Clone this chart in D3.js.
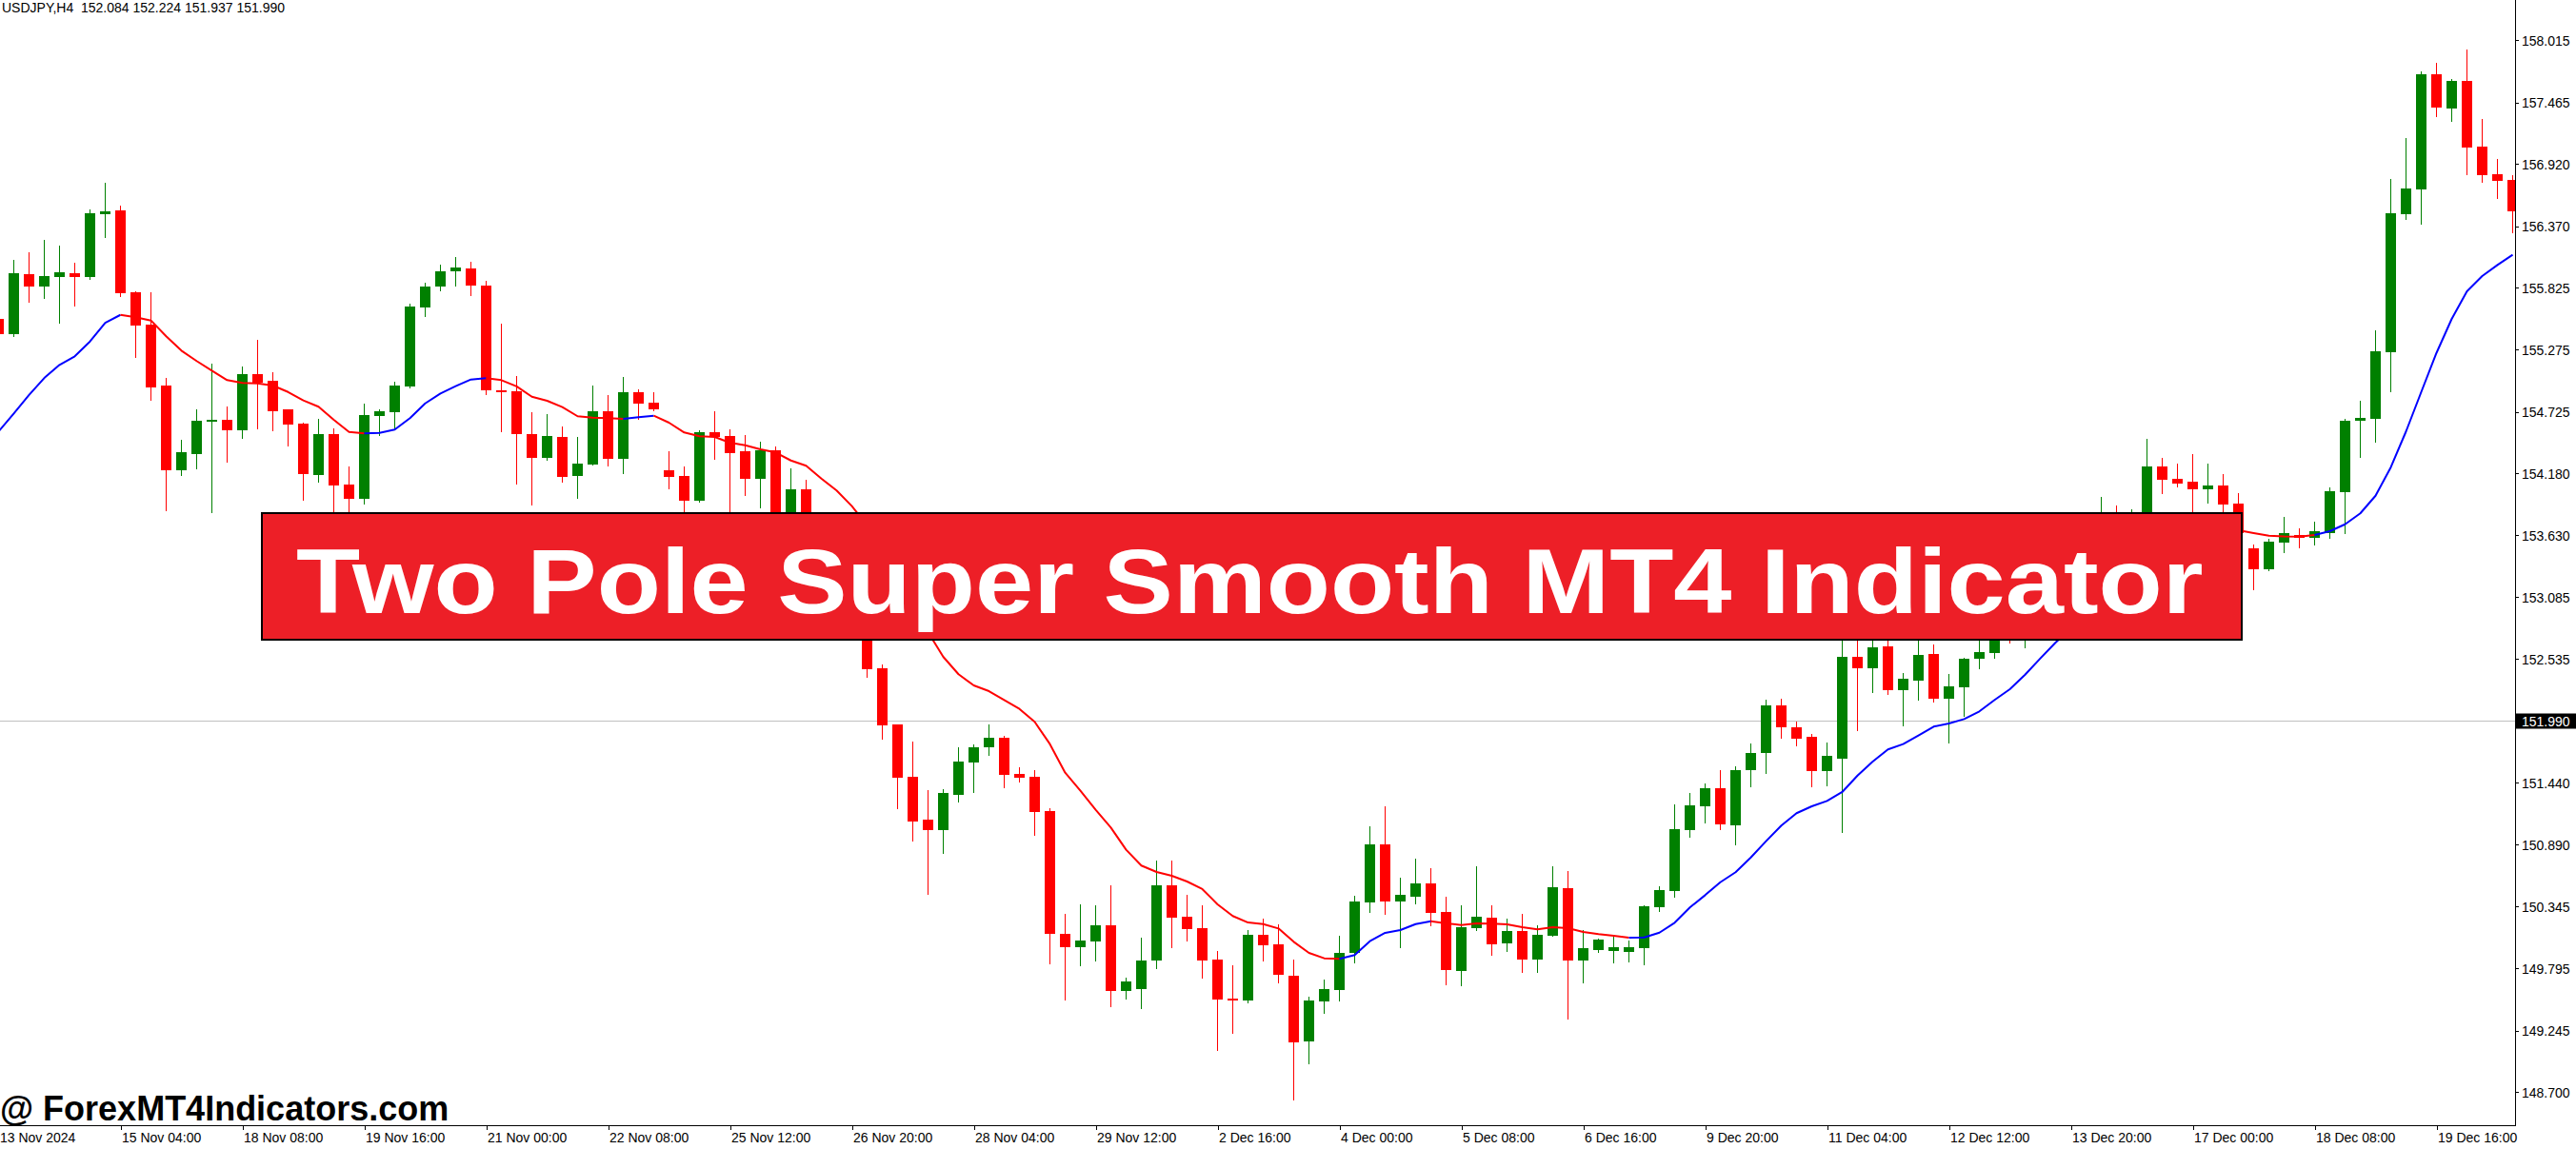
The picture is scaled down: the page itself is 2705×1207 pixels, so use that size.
<!DOCTYPE html>
<html><head><meta charset="utf-8">
<script src="https://cdn.jsdelivr.net/npm/d3@7"></script>
<style>body{margin:0;background:#fff;overflow:hidden}svg{display:block}</style>
</head><body>
<svg id="c" width="2705" height="1207"></svg>
<script>
// ---------- data (bar numbers run from -1 to 164, one H4 bar each) ----------
const symbolInfo = "USDJPY,H4";
const headerOHLC = ["152.084", "152.224", "151.937", "151.990"];
const currentPrice = 151.990;
const firstBar = -1;
const priceTicks = [158.015, 157.465, 156.920, 156.370, 155.825, 155.275, 154.725, 154.180, 153.630,
  153.085, 152.535, 151.440, 150.890, 150.345, 149.795, 149.245, 148.700];
const firstDateLabel = "13 Nov 2024";
const timeLabels = ["15 Nov 04:00", "18 Nov 08:00", "19 Nov 16:00", "21 Nov 00:00", "22 Nov 08:00",
  "25 Nov 12:00", "26 Nov 20:00", "28 Nov 04:00", "29 Nov 12:00", "2 Dec 16:00", "4 Dec 00:00",
  "5 Dec 08:00", "6 Dec 16:00", "9 Dec 20:00", "11 Dec 04:00", "12 Dec 12:00", "13 Dec 20:00",
  "17 Dec 00:00", "18 Dec 08:00", "19 Dec 16:00"];
const timeLabelFirstBar = 7, timeLabelEvery = 8;

const open = [155.548,155.416,155.944,155.837,155.922,155.953,155.922,156.478,156.509,155.784,
155.498,154.958,154.210,154.353,154.638,154.654,154.564,155.059,155.000,154.747,
154.621,154.168,154.528,154.084,153.957,154.691,154.724,154.952,155.652,155.835,
155.970,155.995,155.843,154.918,154.907,154.528,154.320,154.503,154.159,154.261,
154.730,154.311,154.899,154.806,154.208,154.157,153.940,154.545,154.511,154.376,
154.134,154.385,153.609,154.039,153.651,153.229,152.977,152.766,152.454,151.956,
151.493,151.113,151.023,151.335,151.622,151.756,151.836,151.515,151.493,151.186,
150.101,149.986,150.036,150.175,149.598,149.615,149.868,150.531,150.251,150.149,
149.871,149.528,149.514,150.093,150.006,149.730,149.151,149.505,149.606,149.933,
150.382,150.894,150.390,150.430,150.548,150.295,149.775,150.154,150.245,150.019,
150.127,149.876,150.087,150.506,149.868,149.960,149.952,149.944,149.977,150.340,
150.483,151.023,151.234,151.391,151.065,151.554,151.706,152.125,151.931,151.847,
151.547,151.655,152.555,152.456,152.648,152.257,152.347,152.580,152.186,152.288,
152.538,152.591,152.791,152.707,152.977,153.187,153.061,153.314,153.482,153.778,
153.651,153.778,154.241,154.132,154.106,154.041,154.073,153.912,153.516,153.333,
153.567,153.634,153.609,153.651,154.016,154.649,154.663,155.253,156.476,156.695,
157.715,157.412,157.656,157.074,156.830,156.779];
const high = [155.590,156.068,156.136,156.248,156.197,156.046,156.518,156.754,156.552,155.793,
155.784,155.023,154.477,154.747,155.152,154.772,155.127,155.363,155.076,154.751,
154.625,154.663,154.579,154.241,154.798,154.747,154.992,155.683,155.869,156.029,
156.096,156.054,155.885,155.506,155.042,154.722,154.705,154.595,154.503,154.958,
154.874,155.034,154.924,154.899,154.376,154.241,154.562,154.730,154.570,154.520,
154.461,154.418,154.224,154.123,153.735,153.314,153.061,152.850,152.487,151.960,
151.805,151.374,151.383,151.751,151.779,151.956,151.855,151.574,151.552,151.212,
150.278,150.363,150.354,150.531,149.713,150.065,150.751,150.751,150.447,150.354,
149.947,149.823,150.132,150.234,150.183,149.874,149.545,149.697,150.084,150.439,
151.054,151.231,150.599,150.767,150.683,150.430,150.354,150.700,150.354,150.236,
150.278,150.177,150.700,150.658,150.138,150.062,150.079,150.045,150.357,150.525,
151.248,151.349,151.434,151.552,151.585,151.788,152.176,152.184,151.982,151.872,
151.796,152.766,152.740,152.724,152.724,152.414,152.740,152.667,152.403,152.546,
152.724,152.808,152.892,153.061,153.272,153.314,153.398,153.651,153.971,153.896,
153.862,154.486,154.317,154.267,154.351,154.267,154.174,154.005,153.552,153.600,
153.794,153.693,153.752,154.058,154.663,154.826,155.450,156.790,157.150,157.740,
157.819,157.676,157.937,157.319,156.967,156.821];
const low = [155.371,155.399,155.703,155.736,155.517,155.669,155.900,156.276,155.753,155.213,
154.834,153.856,154.168,154.227,153.839,154.286,154.497,154.581,154.564,154.429,
153.949,154.109,153.778,153.778,153.915,154.522,154.579,154.941,155.576,155.801,
155.843,155.759,154.880,154.556,154.087,153.904,154.303,154.106,153.966,154.261,
154.250,154.185,154.663,154.739,154.050,153.778,153.932,154.311,153.752,153.991,
153.881,153.482,153.525,153.525,153.145,152.892,152.707,152.380,151.830,151.217,
150.930,150.453,150.821,151.276,151.358,151.689,151.402,151.453,150.981,149.842,
149.522,149.826,149.868,149.463,149.530,149.446,149.800,149.986,150.045,149.716,
149.075,149.227,149.492,149.868,149.674,148.637,148.957,149.404,149.514,149.851,
150.298,150.281,149.986,150.374,150.180,149.657,149.648,150.138,149.918,149.952,
149.767,149.767,150.087,149.353,149.674,149.944,149.851,149.859,149.834,150.306,
150.433,150.964,151.090,151.031,150.896,151.411,151.529,151.841,151.773,151.411,
151.419,151.001,151.908,152.240,152.229,151.950,152.178,152.161,151.799,152.035,
152.456,152.549,152.679,152.639,152.892,152.977,152.977,153.229,153.398,153.567,
153.609,153.735,154.008,154.064,153.778,153.923,153.778,153.525,153.156,153.325,
153.482,153.525,153.550,153.609,153.651,154.326,154.461,154.907,156.434,156.391,
157.344,157.302,156.830,156.762,156.619,156.316];
const close = [155.416,155.953,155.837,155.928,155.961,155.922,156.484,156.501,155.778,155.492,
154.944,154.210,154.368,154.646,154.654,154.564,155.059,154.983,154.733,154.615,
154.176,154.528,154.075,153.957,154.697,154.730,154.958,155.658,155.835,155.970,
156.004,155.843,154.918,154.912,154.530,154.320,154.511,154.151,154.267,154.730,
154.311,154.899,154.800,154.750,154.151,153.940,154.545,154.500,154.362,154.134,
154.385,153.609,154.039,153.651,153.229,152.977,152.808,152.448,151.950,151.487,
151.099,151.023,151.347,151.627,151.751,151.836,151.512,151.487,151.183,150.104,
149.986,150.042,150.175,149.598,149.677,149.863,150.531,150.247,150.146,149.868,
149.522,149.514,150.093,150.003,149.736,149.143,149.511,149.612,149.933,150.388,
150.894,150.390,150.447,150.548,150.289,149.783,150.160,150.253,150.011,150.127,
149.876,150.093,150.514,149.868,149.975,150.051,149.983,149.983,150.346,150.489,
151.029,151.240,151.391,151.073,151.552,151.703,152.125,151.934,151.832,151.546,
151.678,152.555,152.456,152.639,152.262,152.358,152.572,152.186,152.291,152.538,
152.597,152.740,152.707,152.977,153.187,153.061,153.314,153.482,153.778,153.651,
153.778,154.241,154.126,154.092,154.041,154.073,153.907,153.651,153.333,153.575,
153.651,153.609,153.668,154.025,154.643,154.669,155.259,156.484,156.703,157.715,
157.420,157.656,157.066,156.821,156.771,156.501];
// Two Pole Super Smoother value per bar
const smoother = [154.551,154.711,154.874,155.025,155.141,155.217,155.348,155.514,155.584,155.563,
155.534,155.394,155.267,155.175,155.090,155.006,154.981,154.977,154.958,154.901,
154.826,154.770,154.654,154.547,154.534,154.539,154.568,154.669,154.800,154.888,
154.952,155.011,155.023,155.006,154.950,154.859,154.823,154.767,154.686,154.674,
154.669,154.663,154.677,154.691,154.629,154.542,154.509,154.503,154.452,154.429,
154.393,154.365,154.294,154.247,154.134,154.028,153.890,153.719,153.482,153.246,
153.010,152.774,152.555,152.401,152.302,152.251,152.173,152.094,151.979,151.782,
151.529,151.369,151.200,151.043,150.846,150.706,150.649,150.616,150.565,150.498,
150.363,150.259,150.202,150.188,150.149,150.031,149.933,149.885,149.880,149.913,
150.036,150.110,150.135,150.188,150.213,150.194,150.180,150.194,150.191,150.186,
150.160,150.141,150.160,150.152,150.118,150.099,150.084,150.068,150.070,150.112,
150.200,150.335,150.444,150.559,150.647,150.778,150.922,151.060,151.170,151.231,
151.279,151.358,151.503,151.627,151.735,151.782,151.858,151.937,151.965,152.004,
152.072,152.173,152.268,152.397,152.541,152.681,152.808,152.934,153.061,153.187,
153.305,153.407,153.499,153.575,153.634,153.693,153.684,153.676,153.651,153.628,
153.622,153.620,153.634,153.668,153.729,153.826,153.982,154.233,154.551,154.901,
155.247,155.548,155.793,155.928,156.026,156.116];
// bar ranges (bar numbers) in which the smoother is in its falling (red) state
const fallingRanges = [[7, 23], [31, 40], [42, 87], [93, 106], [144, 151]];
const bannerTitle = "Two Pole Super Smooth MT4 Indicator";
const watermark = "@ ForexMT4Indicators.com";

// ---------- layout ----------
const W = 2705, H = 1207, plotR = 2641, plotB = 1182;
const barStep = 16, bodyW = 11;
const upCol = "#008000", downCol = "#ff0000";
const axisFont = "'Liberation Sans', Arial, sans-serif";

const svg = d3.select("#c");
svg.append("rect").attr("width", W).attr("height", H).attr("fill", "#fff");

const n = open.length;
const lastBar = firstBar + n - 1;
const x = d3.scaleLinear().domain([firstBar, lastBar]).range([-1.5, -1.5 + barStep * (lastBar - firstBar)]);
const y = d3.scaleLinear().domain([148.4065, 158.3728]).range([plotB, 0]);

const defs = svg.append("defs");
defs.append("clipPath").attr("id", "plot").append("rect").attr("x", 0).attr("y", 0).attr("width", plotR).attr("height", plotB);

const plot = svg.append("g").attr("clip-path", "url(#plot)");

// bid line
plot.append("line").attr("x1", 0).attr("x2", plotR)
  .attr("y1", Math.round(y(currentPrice)) + 0.5).attr("y2", Math.round(y(currentPrice)) + 0.5)
  .attr("stroke", "#c0c0c0").attr("stroke-width", 1);

const bars = d3.range(n).map(k => ({b: firstBar + k, o: open[k], h: high[k], l: low[k], c: close[k]}));

const cg = plot.append("g").attr("shape-rendering", "crispEdges");
cg.selectAll("line.w").data(bars).join("line").attr("class", "w")
  .attr("x1", d => x(d.b)).attr("x2", d => x(d.b))
  .attr("y1", d => Math.round(y(d.h))).attr("y2", d => Math.round(y(d.l)) + 1)
  .attr("stroke", d => d.c >= d.o ? upCol : downCol).attr("stroke-width", 1);
cg.selectAll("rect.b").data(bars).join("rect").attr("class", "b")
  .attr("x", d => x(d.b) - bodyW / 2)
  .attr("y", d => Math.round(y(Math.max(d.o, d.c))))
  .attr("width", bodyW)
  .attr("height", d => Math.max(2, Math.round(y(Math.min(d.o, d.c))) - Math.round(y(Math.max(d.o, d.c)))))
  .attr("fill", d => d.c >= d.o ? upCol : downCol);

// smoother line, coloured by state
const isFalling = b => fallingRanges.some(([s, e]) => b >= s && b + 1 <= e);
const runs = [];
for (let k = 0; k < n - 1; k++) {
  const col = isFalling(firstBar + k) ? downCol : "#0000ff";
  const last = runs[runs.length - 1];
  if (last && last.col === col) last.pts.push(k + 1);
  else runs.push({col, pts: [k, k + 1]});
}
const lineGen = d3.line().x(k => x(firstBar + k)).y(k => y(smoother[k]));
plot.selectAll("path.sm").data(runs).join("path").attr("class", "sm")
  .attr("d", r => lineGen(r.pts)).attr("fill", "none")
  .attr("stroke", r => r.col).attr("stroke-width", 2).attr("stroke-linejoin", "round");

// ---------- axes ----------
const ax = svg.append("g").attr("shape-rendering", "crispEdges");
ax.append("line").attr("x1", plotR + 0.5).attr("x2", plotR + 0.5).attr("y1", 0).attr("y2", plotB + 1)
  .attr("stroke", "#000");
ax.append("line").attr("x1", 0).attr("x2", plotR + 1).attr("y1", plotB + 0.5).attr("y2", plotB + 0.5)
  .attr("stroke", "#000");

const yAxis = d3.axisRight(y).tickValues(priceTicks).tickSize(3).tickFormat(d3.format(".3f"));
const yg = svg.append("g").attr("transform", `translate(${plotR + 0.5},0)`).call(yAxis);
yg.select(".domain").remove();
yg.selectAll(".tick line").attr("stroke", "#000").attr("shape-rendering", "crispEdges");
yg.selectAll(".tick text").attr("x", 6.5).attr("dy", "0.36em")
  .attr("font-family", axisFont).attr("font-size", 14).attr("fill", "#000");

// current price label
const cy = Math.round(y(currentPrice)) + 0.5;
svg.append("rect").attr("x", plotR + 1).attr("y", cy - 8).attr("width", W - plotR - 1).attr("height", 16).attr("fill", "#000");
svg.append("text").attr("x", plotR + 7).attr("y", cy).attr("dy", "0.36em")
  .attr("font-family", axisFont).attr("font-size", 14).attr("fill", "#fff").text(d3.format(".3f")(currentPrice));

const tickBars = timeLabels.map((_, j) => timeLabelFirstBar + j * timeLabelEvery);
const xAxis = d3.axisBottom(x).tickValues(tickBars).tickSize(4).tickFormat((d, j) => timeLabels[j]);
const xg = svg.append("g").attr("transform", `translate(0,${plotB + 0.5})`).call(xAxis);
xg.select(".domain").remove();
xg.selectAll(".tick line").attr("stroke", "#000").attr("shape-rendering", "crispEdges");
xg.selectAll(".tick text").attr("y", 17.5).attr("dy", 0).attr("x", 1).attr("text-anchor", "start")
  .attr("font-family", axisFont).attr("font-size", 14).attr("fill", "#000");
svg.append("text").attr("x", 0).attr("y", plotB + 18).attr("font-family", axisFont).attr("font-size", 14)
  .attr("fill", "#000").text(firstDateLabel);

// header
svg.append("text").attr("x", 2).attr("y", 13).attr("font-family", axisFont).attr("font-size", 14)
  .attr("fill", "#000").style("white-space", "pre")
  .text(symbolInfo + "  " + headerOHLC.join(" "));

// ---------- banner ----------
const bn = svg.append("g");
bn.append("rect").attr("x", 274).attr("y", 538).attr("width", 2081).attr("height", 135).attr("fill", "#000");
bn.append("rect").attr("x", 276).attr("y", 540).attr("width", 2077).attr("height", 131).attr("fill", "#ed1f27");
bn.append("text").attr("transform", "translate(311,644) scale(1.146,1)")
  .attr("font-family", "'Liberation Sans', Arial, sans-serif").attr("font-weight", "bold")
  .attr("font-size", 96).attr("fill", "#fff").text(bannerTitle);

// watermark
svg.append("text").attr("x", 0).attr("y", 1177).attr("font-family", "'Liberation Sans', Arial, sans-serif")
  .attr("font-weight", "bold").attr("font-size", 36).attr("fill", "#000").text(watermark);
</script>
</body></html>
